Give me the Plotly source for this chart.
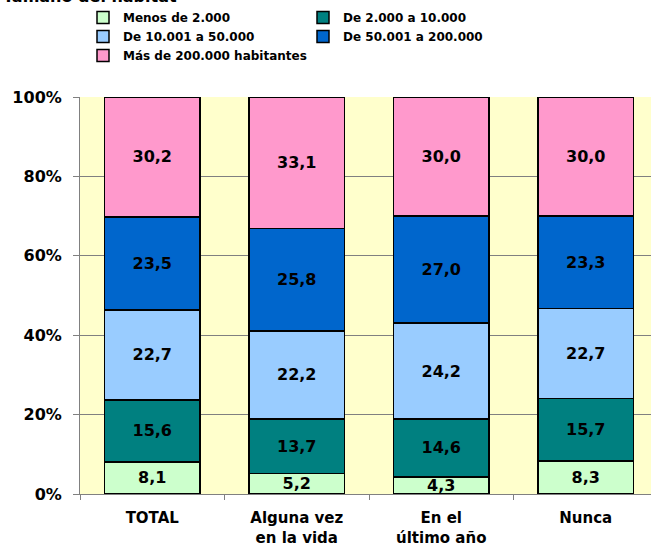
import plotly.graph_objects as go

categories = ["TOTAL", "Alguna vez<br>en la vida", "En el<br>último año", "Nunca"]
series_names = ["Menos de 2.000", "De 2.000 a 10.000", "De 10.001 a 50.000",
                "De 50.001 a 200.000", "Más de 200.000 habitantes"]
menos_2000 = [8.1, 5.2, 4.3, 8.3]
de_2000_10000 = [15.6, 13.7, 14.6, 15.7]
de_10001_50000 = [22.7, 22.2, 24.2, 22.7]
de_50001_200000 = [23.5, 25.8, 27.0, 23.3]
mas_200000 = [30.2, 33.1, 30.0, 30.0]
y_tick_values = [0, 20, 40, 60, 80, 100]
y_tick_labels = ["0%", "20%", "40%", "60%", "80%", "100%"]

series_values = [menos_2000, de_2000_10000, de_10001_50000, de_50001_200000, mas_200000]
colors = ["#CCFFCC", "#008080", "#99CCFF", "#0066CC", "#FF99CC"]

FONT = "DejaVu Sans"

fig = go.Figure()
for name, vals, col in zip(series_names, series_values, colors):
    fig.add_trace(go.Bar(
        x=categories, y=vals, name=name,
        marker=dict(color=col, line=dict(color="black", width=1.5)),
        text=[f"{v:.1f}".replace(".", ",") for v in vals],
        textposition="inside", insidetextanchor="middle", textangle=0,
        insidetextfont=dict(family=FONT, size=16, color="black", weight="bold"),
        hoverinfo="skip",
    ))

W, H = 651, 546
ml, mr, mt, mb = 80, 0, 97, 52
plot_h = H - mt - mb
plot_w = W - ml - mr

fig.update_layout(
    width=W, height=H,
    barmode="stack", barnorm="percent", bargap=0.336,
    separators=",.",
    margin=dict(l=ml, r=mr, t=mt, b=mb, autoexpand=False),
    plot_bgcolor="#FFFFCC", paper_bgcolor="white",
    font=dict(family=FONT, size=13, color="black", weight="bold"),
    uniformtext=dict(minsize=16, mode="show"),
    legend=dict(
        orientation="h", x=3 / plot_w, xanchor="left", y=1 + 94 / plot_h, yanchor="top",
        entrywidth=175, entrywidthmode="pixels",
        font=dict(family=FONT, size=12, color="black", weight="bold"),
        tracegroupgap=0, traceorder="normal", itemwidth=30,
        bgcolor="rgba(0,0,0,0)",
    ),
    showlegend=True,
    annotations=[dict(
        text="Tamaño del hábitat", xref="paper", yref="paper",
        x=-(ml - 1) / plot_w, y=1 + 100.5 / plot_h, xanchor="left", yanchor="middle",
        showarrow=False, font=dict(family=FONT, size=16, color="black", weight="bold"),
    )],
)

fig.update_xaxes(
    range=[-0.5, -0.5 + plot_w / 144.5],
    showline=True, linecolor="#808080", linewidth=1,
    ticks="outside", tickson="boundaries", ticklen=5, tickcolor="#808080",
    tickfont=dict(family=FONT, size=15, color="black", weight="bold"),
    ticklabelstandoff=10,
    showgrid=False,
)
fig.update_yaxes(
    range=[0, 100], tickmode="array", tickvals=y_tick_values, ticktext=y_tick_labels,
    showline=True, linecolor="#808080", linewidth=1,
    ticks="outside", ticklen=6, tickcolor="#808080",
    showgrid=True, gridcolor="#808080", gridwidth=1,
    zeroline=False, ticklabelstandoff=8,
    tickfont=dict(family=FONT, size=16, color="black", weight="bold"),
)

fig.write_html("out.html", config={"displayModeBar": False},
               post_script="document.body.style.margin='0';")
